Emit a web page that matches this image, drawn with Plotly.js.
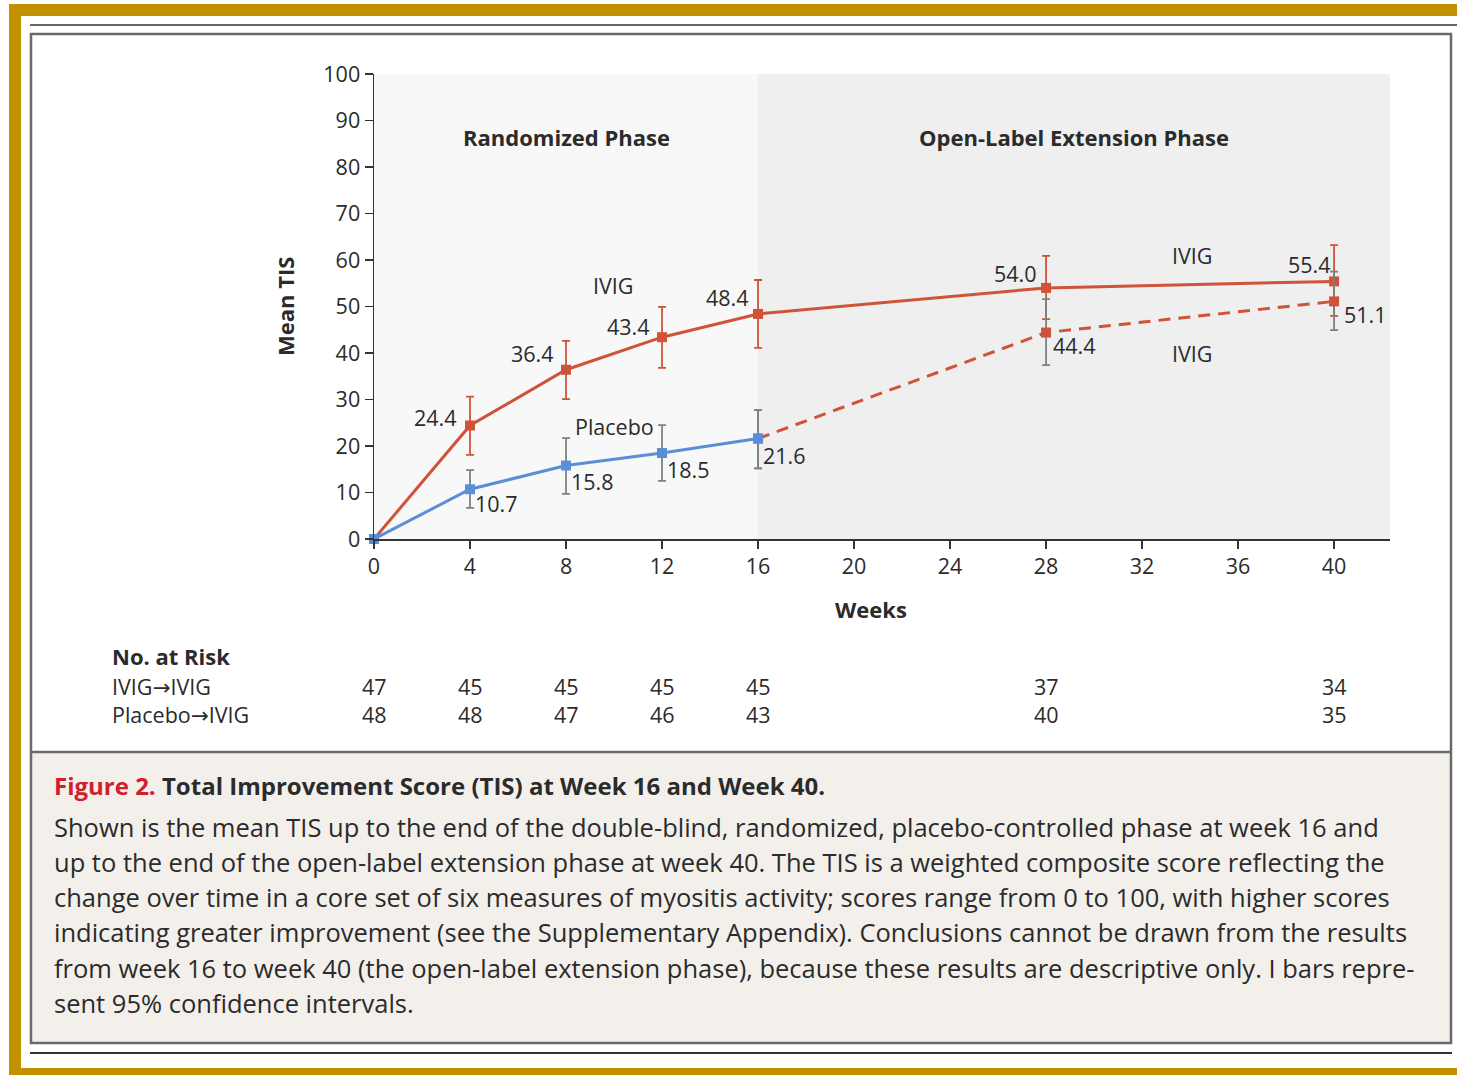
<!DOCTYPE html>
<html>
<head>
<meta charset="utf-8">
<script src="https://cdn.plot.ly/plotly-3.0.1.min.js"></script>
<style>
html,body{margin:0;padding:0;background:#fff;}
#chart{width:1457px;height:1075px;}
</style>
</head>
<body>
<div id="chart"></div>
<script>
// ---------- DATA ----------
const weeks = [0, 4, 8, 12, 16, 28, 40];
const ivigMean = [0, 24.4, 36.4, 43.4, 48.4, 54.0, 55.4];
const ivigUpper = [0, 30.6, 42.6, 49.9, 55.7, 60.9, 63.2];
const ivigLower = [0, 18.1, 30.1, 36.8, 41.1, 47.3, 48.0];

const placeboWeeks = [0, 4, 8, 12, 16];
const placeboMean = [0, 10.7, 15.8, 18.5, 21.6];
const placeboUpper = [0, 14.8, 21.7, 24.5, 27.7];
const placeboLower = [0, 6.7, 9.7, 12.5, 15.2];

const switchWeeks = [16, 28, 40];
const switchMean = [21.6, 44.4, 51.1];
const switchUpper = [27.7, 51.6, 57.5];
const switchLower = [15.2, 37.4, 44.9];

const xTicks = [0, 4, 8, 12, 16, 20, 24, 28, 32, 36, 40];
const yTicks = [0, 10, 20, 30, 40, 50, 60, 70, 80, 90, 100];

const riskWeeks = [0, 4, 8, 12, 16, 28, 40];
const riskIvig = [47, 45, 45, 45, 45, 37, 34];
const riskPlacebo = [48, 48, 47, 46, 43, 40, 35];
const riskRowLabels = [["IVIG", "IVIG"], ["Placebo", "IVIG"]];

const captionTitleRed = "Figure 2.";
const captionTitle = "Total Improvement Score (TIS) at Week 16 and Week 40.";
const captionLines = [
  "Shown is the mean TIS up to the end of the double-blind, randomized, placebo-controlled phase at week 16 and",
  "up to the end of the open-label extension phase at week 40. The TIS is a weighted composite score reflecting the",
  "change over time in a core set of six measures of myositis activity; scores range from 0 to 100, with higher scores",
  "indicating greater improvement (see the Supplementary Appendix). Conclusions cannot be drawn from the results",
  "from week 16 to week 40 (the open-label extension phase), because these results are descriptive only. I bars repre-",
  "sent 95% confidence intervals."
];

// ---------- STYLE / LAYOUT ----------
const W = 1457, H = 1075;
const FONT = "'Open Sans', sans-serif";
const RED = "#cf5338", BLUE = "#5b8ed6", GREY = "#808080", TXT = "#2b2b2b";
const px = v => v / W;            // pixel -> paper x
const py = v => 1 - v / H;        // pixel -> paper y
const XMAX = 42.33;

function errs(mean, up, lo) {
  return {
    plus: mean.map((m, i) => up[i] - m),
    minus: mean.map((m, i) => m - lo[i])
  };
}
const eI = errs(ivigMean, ivigUpper, ivigLower);
const eP = errs(placeboMean, placeboUpper, placeboLower);
const eS = errs(switchMean, switchUpper, switchLower);

const traces = [
  {
    x: weeks, y: ivigMean, type: "scatter", mode: "lines+markers",
    line: {color: RED, width: 3}, marker: {symbol: "square", size: 10, color: RED},
    error_y: {type: "data", array: eI.plus, arrayminus: eI.minus, color: RED, thickness: 1.8, width: 4},
    cliponaxis: false, hoverinfo: "skip"
  },
  {
    x: switchWeeks, y: switchMean, type: "scatter", mode: "lines+markers",
    line: {color: RED, width: 3, dash: "12px,8px"}, marker: {symbol: "square", size: 10, color: RED},
    error_y: {type: "data", array: eS.plus, arrayminus: eS.minus, color: GREY, thickness: 1.8, width: 4},
    cliponaxis: false, hoverinfo: "skip"
  },
  {
    x: placeboWeeks, y: placeboMean, type: "scatter", mode: "lines+markers",
    line: {color: BLUE, width: 3}, marker: {symbol: "square", size: 10, color: BLUE},
    error_y: {type: "data", array: eP.plus, arrayminus: eP.minus, color: GREY, thickness: 1.8, width: 4},
    cliponaxis: false, hoverinfo: "skip"
  }
];

const NORM = {family: FONT, size: 21.5, color: TXT};
const BOLD = {family: FONT, size: 22, color: TXT};
const annotations = [];
function ann(o) {
  annotations.push(Object.assign({showarrow: false, xanchor: "center", yanchor: "middle", font: NORM}, o));
}

// value labels – IVIG (left/above)
const ivigLabelShift = [null, [-11, 8], [-10, 16], [-10, 11], [-7, 16], [-7, 14], [-1, 17]];
weeks.forEach((w, i) => {
  if (!ivigLabelShift[i]) return;
  ann({x: w, y: ivigMean[i], xref: "x", yref: "y", text: ivigMean[i].toFixed(1),
       xanchor: "right", xshift: ivigLabelShift[i][0], yshift: ivigLabelShift[i][1]});
});
// value labels – placebo (right/below)
const plLabelShift = [null, [3, -14], [3, -16], [3, -17], [3, -17]];
placeboWeeks.forEach((w, i) => {
  if (!plLabelShift[i]) return;
  ann({x: w, y: placeboMean[i], xref: "x", yref: "y", text: placeboMean[i].toFixed(1),
       xanchor: "left", xshift: plLabelShift[i][0], yshift: plLabelShift[i][1]});
});
const swLabelShift = [null, [5, -13], [8, -13]];
switchWeeks.forEach((w, i) => {
  if (!swLabelShift[i]) return;
  ann({x: w, y: switchMean[i], xref: "x", yref: "y", text: switchMean[i].toFixed(1),
       xanchor: "left", xshift: swLabelShift[i][0], yshift: swLabelShift[i][1]});
});

// series labels
ann({x: 9.96, y: 54.6, xref: "x", yref: "y", text: "IVIG"});
ann({x: 10, y: 24.2, xref: "x", yref: "y", text: "Placebo"});
ann({x: 34.08, y: 60.9, xref: "x", yref: "y", text: "IVIG"});
ann({x: 34.08, y: 40.0, xref: "x", yref: "y", text: "IVIG"});

// phase labels
ann({x: 8, y: py(137), xref: "x", yref: "paper", text: "<b>Randomized Phase</b>", font: BOLD});
ann({x: (16 + XMAX) / 2, y: py(137), xref: "x", yref: "paper", text: "<b>Open-Label Extension Phase</b>", font: BOLD});

// axis titles
ann({x: px(285), y: py(307), xref: "paper", yref: "paper", text: "<b>Mean TIS</b>", textangle: -90, font: BOLD});
ann({x: px(871), y: py(609), xref: "paper", yref: "paper", text: "<b>Weeks</b>", font: BOLD});

// No. at risk
const ARROW = '<span style="font-family:\'DejaVu Sans\'">\u2192</span>';
ann({x: px(110), y: py(656), xref: "paper", yref: "paper", xanchor: "left", text: "<b>No. at Risk</b>", font: BOLD});
ann({x: px(110), y: py(686), xref: "paper", yref: "paper", xanchor: "left", text: riskRowLabels[0].join(ARROW)});
ann({x: px(110), y: py(714), xref: "paper", yref: "paper", xanchor: "left", text: riskRowLabels[1].join(ARROW)});
riskWeeks.forEach((w, i) => {
  ann({x: w, y: py(686), xref: "x", yref: "paper", text: String(riskIvig[i])});
  ann({x: w, y: py(714), xref: "x", yref: "paper", text: String(riskPlacebo[i])});
});

// caption
ann({x: px(52), y: py(785), xref: "paper", yref: "paper", xanchor: "left",
     text: '<b><span style="color:#d0202e">' + captionTitleRed + '</span> ' + captionTitle + '</b>',
     font: {family: FONT, size: 24, color: TXT}});
const capY = [827, 862, 897, 932, 968, 1003];
captionLines.forEach((t, i) => {
  ann({x: px(52), y: py(capY[i]), xref: "paper", yref: "paper", xanchor: "left", text: t,
       font: {family: FONT, size: 25.5, color: TXT}});
});

const GOLD = "#c19100";
const shapes = [
  // plot background phases
  {type: "rect", xref: "x", yref: "y", x0: 0, x1: 16, y0: 0, y1: 100, fillcolor: "#f8f8f8", line: {width: 0}, layer: "below"},
  {type: "rect", xref: "x", yref: "y", x0: 16, x1: XMAX, y0: 0, y1: 100, fillcolor: "#efefef", line: {width: 0}, layer: "below"},
  // gold frame
  {type: "rect", xref: "paper", yref: "paper", x0: px(9), x1: px(21), y0: py(1075), y1: py(4), fillcolor: GOLD, line: {width: 0}, layer: "below"},
  {type: "rect", xref: "paper", yref: "paper", x0: px(9), x1: 1, y0: py(16), y1: py(4), fillcolor: GOLD, line: {width: 0}, layer: "below"},
  {type: "rect", xref: "paper", yref: "paper", x0: px(9), x1: 1, y0: py(1075), y1: py(1068), fillcolor: GOLD, line: {width: 0}, layer: "below"},
  // top rule
  {type: "line", xref: "paper", yref: "paper", x0: px(30), x1: 1, y0: py(25), y1: py(25), line: {color: "#333", width: 1.5}},
  // caption bg
  {type: "rect", xref: "paper", yref: "paper", x0: px(31), x1: px(1451), y0: py(1043), y1: py(752), fillcolor: "#f3f0eb", line: {width: 0}, layer: "below"},
  // main box
  {type: "rect", xref: "paper", yref: "paper", x0: px(31), x1: px(1451), y0: py(1043), y1: py(34), line: {color: "#6a6a6a", width: 2.5}},
  {type: "line", xref: "paper", yref: "paper", x0: px(31), x1: px(1451), y0: py(752), y1: py(752), line: {color: "#6a6a6a", width: 2.5}},
  // bottom rule
  {type: "line", xref: "paper", yref: "paper", x0: px(30), x1: px(1452), y0: py(1053), y1: py(1053), line: {color: "#333", width: 2}}
];

const layout = {
  width: W, height: H,
  margin: {l: 0, r: 0, t: 0, b: 0, autoexpand: false},
  paper_bgcolor: "#ffffff", plot_bgcolor: "rgba(0,0,0,0)",
  showlegend: false,
  font: NORM,
  xaxis: {
    domain: [px(374), px(1390)], range: [0, XMAX], tickvals: xTicks, ticktext: xTicks.map(String),
    ticks: "outside", ticklen: 8, tickwidth: 1.5, tickcolor: "#333",
    showline: true, linecolor: "#333", linewidth: 1.5, showgrid: false, zeroline: false,
    tickfont: NORM, fixedrange: true
  },
  yaxis: {
    domain: [py(539), py(74)], range: [0, 100], tickvals: yTicks, ticktext: yTicks.map(String),
    ticks: "outside", ticklen: 8, tickwidth: 1.5, tickcolor: "#333",
    showline: true, linecolor: "#333", linewidth: 1.5, showgrid: false, zeroline: false,
    tickfont: NORM, fixedrange: true
  },
  shapes: shapes,
  annotations: annotations
};

Plotly.newPlot("chart", traces, layout, {displayModeBar: false, staticPlot: true});
</script>
</body>
</html>
